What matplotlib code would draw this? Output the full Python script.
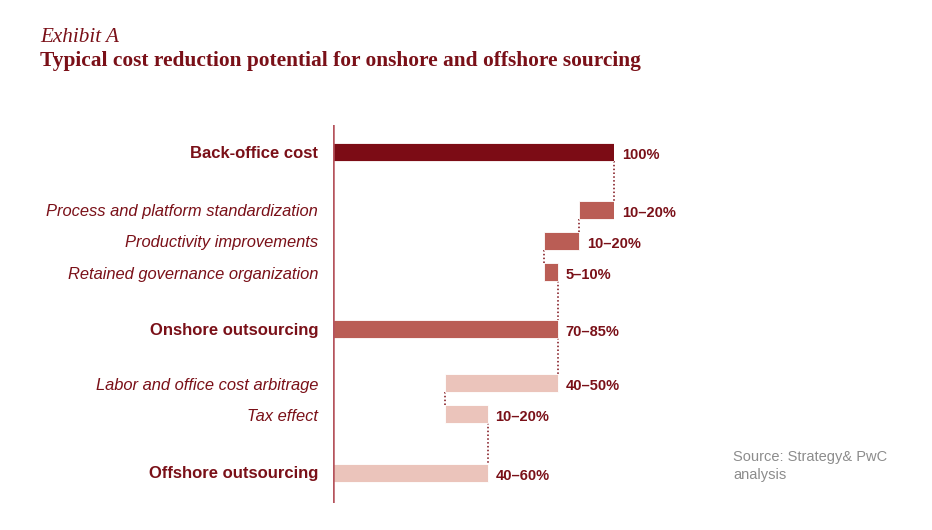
import matplotlib
matplotlib.use("Agg")
import matplotlib.pyplot as plt

# ---- data ----
categories = [
    "Back-office cost",
    "Process and platform standardization",
    "Productivity improvements",
    "Retained governance organization",
    "Onshore outsourcing",
    "Labor and office cost arbitrage",
    "Tax effect",
    "Offshore outsourcing",
]
kinds = ["total", "step", "step", "step", "total", "step", "step", "total"]
values = [100, -12.5, -12.5, 5, 80, -40, 15, 55]
value_labels = ["100%", "10–20%", "10–20%", "5–10%", "70–85%", "40–50%", "10–20%", "40–60%"]
# ---- layout / style ----
row_gaps = [0, 1.87, 1, 1, 1.84, 1.74, 1, 1.9]
DARK = "#7C0C15"
MED = "#BA5D55"
LIGHT = "#EBC4BB"
bar_colors = [DARK, MED, MED, MED, MED, LIGHT, LIGHT, LIGHT]
TEXT = "#7A1018"

W, H = 932, 530
fig = plt.figure(figsize=(W / 100, H / 100), dpi=100)
ax = fig.add_axes([333 / W, 1 - 503 / H, 281 / W, 378 / H])
ax.set_xlim(0, 100)

ypos = []
acc = 0
for g in row_gaps:
    acc += g
    ypos.append(acc)
ax.set_ylim(11.32, -0.871)

bh = 0.58
level = 0
starts, ends = [], []
for k, v in zip(kinds, values):
    if k == "total":
        s, e = 0, v
        level = v
    else:
        s, e = level, level + v
        level = e
    starts.append(s)
    ends.append(e)

for i, y in enumerate(ypos):
    left = min(starts[i], ends[i])
    width = abs(ends[i] - starts[i])
    ax.barh(y, width, left=left, height=bh, color=bar_colors[i],
            edgecolor="white", linewidth=0.6, zorder=2)
    ax.annotate(value_labels[i], xy=(max(starts[i], ends[i]), y),
                xytext=(8, -3), textcoords="offset pixels",
                ha="left", va="center", fontsize=10.5, fontweight="bold",
                color=TEXT, family="Liberation Sans", annotation_clip=False)
    if kinds[i] == "total":
        ax.annotate(categories[i], xy=(0, y), xytext=(-15, -1), textcoords="offset pixels",
                    ha="right", va="center", fontsize=12, fontweight="bold",
                    color=TEXT, family="Liberation Sans", annotation_clip=False)
    else:
        ax.annotate(categories[i], xy=(0, y), xytext=(-15, -2), textcoords="offset pixels",
                    ha="right", va="center", fontsize=11.85, fontstyle="italic",
                    color=TEXT, family="Liberation Sans", annotation_clip=False)

# connectors
for i in range(len(ypos) - 1):
    x = ends[i]
    ax.plot([x, x], [ypos[i] + bh / 2, ypos[i + 1] - bh / 2], linestyle=(0, (1, 1.5)),
            color=DARK, linewidth=1.1, zorder=1, clip_on=False)

ax.axvline(0, color="#B5535C", linewidth=1.8, zorder=3)
ax.set_axis_off()

fig.text(40 / W, 1 - 38 / H, "Exhibit A", fontsize=15.2, fontstyle="italic",
         family="Liberation Serif", color=TEXT, va="center", ha="left")
fig.text(40 / W, 1 - 61 / H, "Typical cost reduction potential for onshore and offshore sourcing",
         fontsize=15.4, fontweight="bold", family="Liberation Serif", color=TEXT,
         va="center", ha="left")
fig.text(733 / W, 1 - 466 / H, "Source: Strategy& PwC\nanalysis", fontsize=10.5,
         family="Liberation Sans", color="#8C8C8C", va="center", ha="left", linespacing=1.3)

fig.savefig("out.png", dpi=100, facecolor="white")
